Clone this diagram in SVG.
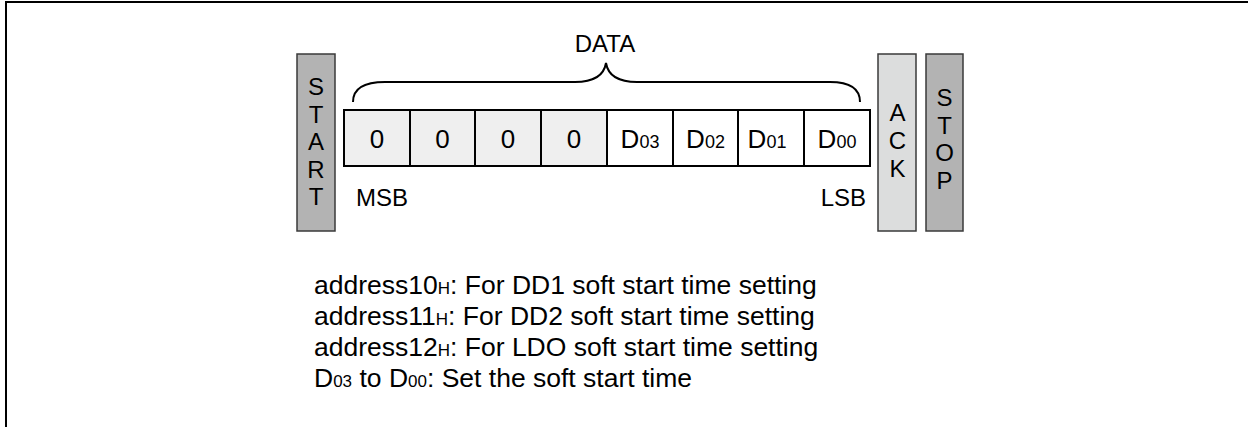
<svg xmlns="http://www.w3.org/2000/svg" width="1248" height="427" viewBox="0 0 1248 427">
<style>
text{font-family:"Liberation Sans",Arial,sans-serif;fill:#000}
.bar{stroke:#3a3a3a;stroke-width:1.5}
.dark{fill:#b3b3b3}
.light{fill:#dcdddd}
.cell{stroke:#000;stroke-width:2}
.g{fill:#efefef}
.w{fill:#fff}
.lbl{font-size:24px;text-anchor:middle}
.num{font-size:26px;text-anchor:middle}
.v{font-size:24px;text-anchor:middle}
.sub{font-size:18px}
.note{font-size:26.5px}
.nsub{font-size:17px}
.frame{stroke:#000;stroke-width:2;fill:none}
.brace{stroke:#000;stroke-width:2;fill:none}
</style>
<rect width="1248" height="427" fill="#fff"/>
<path class="frame" d="M6,427 V2 H1248"/>
<g id="start">
<rect class="bar dark" x="297" y="54" width="38" height="177"/>
<text class="v" x="316" y="95">S</text>
<text class="v" x="316" y="123">T</text>
<text class="v" x="316" y="150">A</text>
<text class="v" x="316" y="178">R</text>
<text class="v" x="316" y="205">T</text>
</g>
<g id="ack">
<rect class="bar light" x="878" y="54" width="38" height="177"/>
<text class="v" x="897.5" y="121">A</text>
<text class="v" x="897.5" y="149">C</text>
<text class="v" x="897.5" y="177">K</text>
</g>
<g id="stop">
<rect class="bar dark" x="926" y="54" width="37" height="177"/>
<text class="v" x="944.5" y="106">S</text>
<text class="v" x="944.5" y="134">T</text>
<text class="v" x="944.5" y="161">O</text>
<text class="v" x="944.5" y="189">P</text>
</g>
<g id="data">
<rect class="cell g" x="344" y="110" width="66" height="56"/>
<rect class="cell g" x="410" y="110" width="65" height="56"/>
<rect class="cell g" x="475" y="110" width="66" height="56"/>
<rect class="cell g" x="541" y="110" width="66" height="56"/>
<rect class="cell w" x="607" y="110" width="66" height="56"/>
<rect class="cell w" x="673" y="110" width="65" height="56"/>
<rect class="cell w" x="738" y="110" width="66" height="56"/>
<rect class="cell w" x="804" y="110" width="66" height="56"/>
<text class="num" x="377" y="148">0</text>
<text class="num" x="442.5" y="148">0</text>
<text class="num" x="508" y="148">0</text>
<text class="num" x="574" y="148">0</text>
<text class="num" x="640" y="148">D<tspan class="sub">03</tspan></text>
<text class="num" x="705.5" y="148">D<tspan class="sub">02</tspan></text>
<text class="num" x="767" y="148">D<tspan class="sub">01</tspan></text>
<text class="num" x="837" y="148">D<tspan class="sub">00</tspan></text>
<text class="lbl" x="605" y="52">DATA</text>
<text class="lbl" x="356" y="206" style="text-anchor:start">MSB</text>
<text class="lbl" x="866" y="206" style="text-anchor:end">LSB</text>
</g>
<g id="connectors">
<path class="brace" d="M353,102 C353,89 364,82 385,82 L575,82 C595,82 604,75 606,63 C608,75 617,82 637,82 L830,82 C851,82 860,89 860,102"/>
</g>
<g id="notes">
<text class="note" x="314" y="294">address10<tspan class="nsub">H</tspan>: For DD1 soft start time setting</text>
<text class="note" x="314" y="325">address11<tspan class="nsub">H</tspan>: For DD2 soft start time setting</text>
<text class="note" x="314" y="356">address12<tspan class="nsub">H</tspan>: For LDO soft start time setting</text>
<text class="note" x="314" y="387">D<tspan class="nsub">03</tspan> to D<tspan class="nsub">00</tspan>: Set the soft start time</text>
</g>
</svg>
